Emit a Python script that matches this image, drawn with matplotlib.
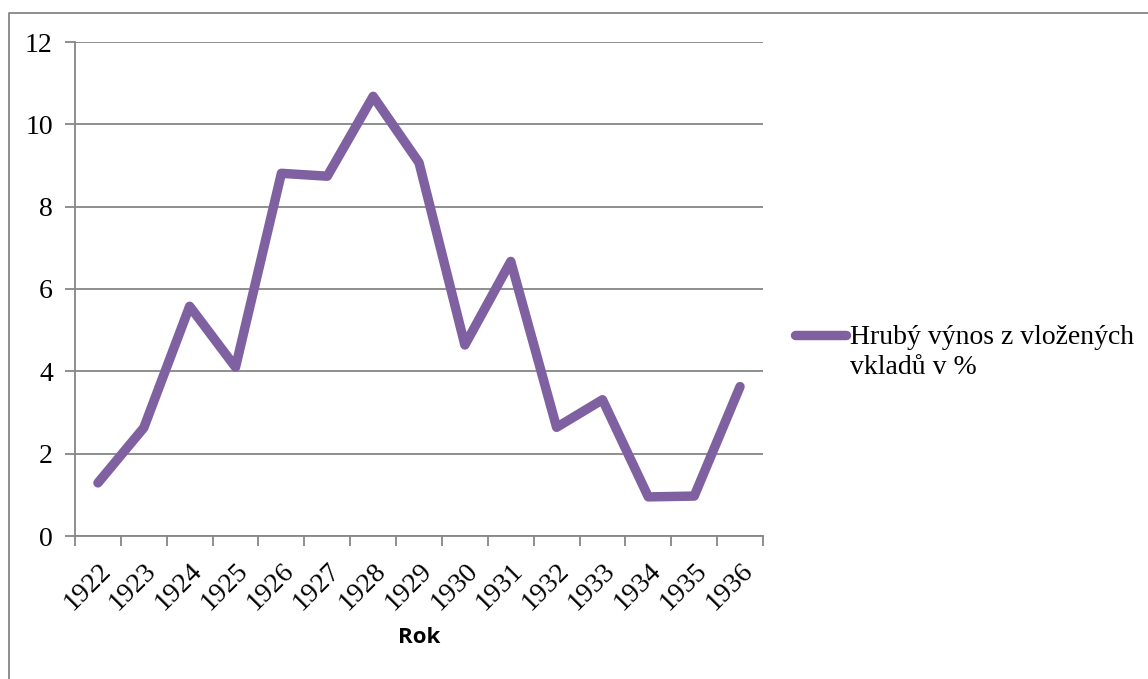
import matplotlib.pyplot as plt
from matplotlib.lines import Line2D

# roky a hrubý výnos v %
roky = ['1922', '1923', '1924', '1925', '1926', '1927', '1928', '1929',
        '1930', '1931', '1932', '1933', '1934', '1935', '1936']
vynos = [1.29, 2.63, 5.58, 4.10, 8.81, 8.74, 10.68, 9.07,
         4.64, 6.67, 2.64, 3.31, 0.95, 0.97, 3.63]
yticks = [0, 2, 4, 6, 8, 10, 12]
legenda = 'Hrubý výnos z vložených\nvkladů v %'

serif = ['Liberation Serif', 'DejaVu Serif']
seda = '#868686'
barva = '#7F61A1'

fig = plt.figure(figsize=(11.48, 6.79), dpi=100)
ax = fig.add_axes([75 / 1148, 143 / 679, 688 / 1148, 494 / 679])

x = list(range(len(roky)))
ax.plot(x, vynos, color=barva, linewidth=6.8,
        solid_capstyle='round', solid_joinstyle='round', zorder=3)

ax.set_xlim(-0.5, len(roky) - 0.5)
ax.set_ylim(0, 12)
ax.set_yticks(yticks)
ax.set_yticklabels([str(v) for v in yticks], family=serif, fontsize=20)
ax.grid(axis='y', color=seda, linewidth=1.3)
ax.set_axisbelow(True)

# ticks on category borders, labels in the middle
ax.set_xticks([i - 0.5 for i in range(len(roky) + 1)])
ax.set_xticklabels([])
ax.set_xticks(x, minor=True)
ax.set_xticklabels(roky, minor=True, rotation=45, ha='right', va='top',
                   rotation_mode='anchor', family=serif, fontsize=20)
ax.tick_params(axis='x', which='minor', length=0, pad=16)
ax.tick_params(axis='x', which='major', length=7, width=1.3, color=seda)
ax.tick_params(axis='y', length=7, width=1.3, color=seda, pad=9)

for s in ['top', 'right']:
    ax.spines[s].set_visible(False)
for s in ['left', 'bottom']:
    ax.spines[s].set_color(seda)
    ax.spines[s].set_linewidth(1.3)

ax.set_xlabel('Rok', family=['Open Sans', 'DejaVu Sans'], fontweight='bold',
              fontsize=16)
ax.xaxis.set_label_coords(0.5, -0.206)
ax.xaxis.label.set_va('center')

# legend
fig.add_artist(Line2D([795 / 1148, 846 / 1148], [1 - 335 / 679, 1 - 335 / 679],
                      color=barva, linewidth=6.8, solid_capstyle='round'))
fig.text(850 / 1148, 1 - 325 / 679, legenda, family=serif, fontsize=20,
         va='top', ha='left', linespacing=1.25)

# chart frame
fig.add_artist(Line2D([9 / 1148, 9 / 1148, 1], [0, 1 - 13 / 679, 1 - 13 / 679],
                      color=seda, linewidth=1.3))

fig.savefig('out.png', dpi=100)
